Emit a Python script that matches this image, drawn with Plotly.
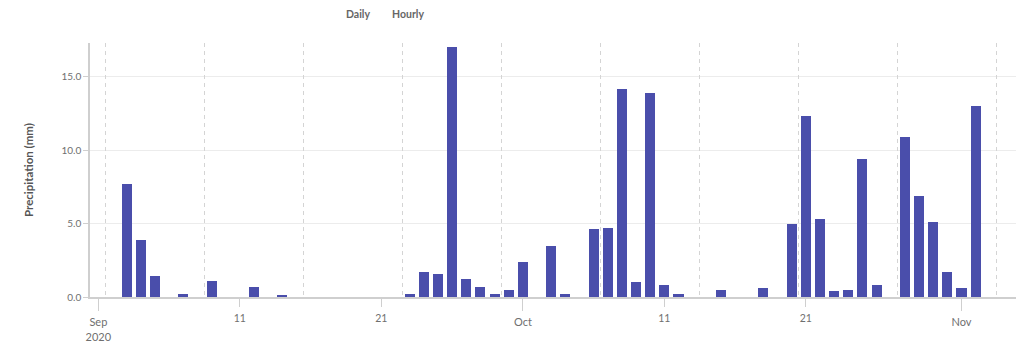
import plotly.graph_objects as go
import pandas as pd

# Daily precipitation (mm), non-zero days only
dates = [
    "2020-09-03", "2020-09-04", "2020-09-05", "2020-09-07", "2020-09-09",
    "2020-09-12", "2020-09-14", "2020-09-23", "2020-09-24", "2020-09-25",
    "2020-09-26", "2020-09-27", "2020-09-28", "2020-09-29", "2020-09-30",
    "2020-10-01", "2020-10-03", "2020-10-04", "2020-10-06", "2020-10-07",
    "2020-10-08", "2020-10-09", "2020-10-10", "2020-10-11", "2020-10-12",
    "2020-10-15", "2020-10-18", "2020-10-20", "2020-10-21", "2020-10-22",
    "2020-10-23", "2020-10-24", "2020-10-25", "2020-10-26", "2020-10-28",
    "2020-10-29", "2020-10-30", "2020-10-31", "2020-11-01", "2020-11-02",
]
precip = [
    7.7, 3.9, 1.4, 0.2, 1.1,
    0.7, 0.1, 0.2, 1.7, 1.6,
    17.0, 1.2, 0.7, 0.2, 0.5,
    2.4, 3.5, 0.2, 4.6, 4.7,
    14.2, 1.0, 13.9, 0.8, 0.2,
    0.5, 0.6, 5.0, 12.3, 5.3,
    0.4, 0.5, 9.4, 0.8, 10.9,
    6.9, 5.1, 1.7, 0.6, 13.0,
]

day_tick_vals = ["2020-09-11", "2020-09-21", "2020-10-11", "2020-10-21"]
day_tick_text = ["11", "21", "11", "21"]
month_tick_vals = ["2020-09-01", "2020-10-01", "2020-11-01"]
month_tick_text = ["Sep<br>2020", "Oct", "Nov"]
x_range = ["2020-08-31 09:50", "2020-11-04 20:25"]
y_range = [0, 17.3]

DAY_MS = 86400000
FONT = "Lato"
AXIS_GRAY = "#cfcfcf"
LABEL_GRAY = "#6f6f6f"

x_dates = pd.to_datetime(dates)

fig = go.Figure()
# invisible helper traces so the overlay axes (dashed week grid, month ticks) are drawn
fig.add_trace(go.Scatter(
    x=x_dates, y=precip, mode="markers", marker=dict(opacity=0),
    xaxis="x3", yaxis="y", hoverinfo="skip", showlegend=False,
))
fig.add_trace(go.Scatter(
    x=x_dates, y=precip, mode="markers", marker=dict(opacity=0),
    xaxis="x2", yaxis="y", hoverinfo="skip", showlegend=False,
))
fig.add_trace(go.Bar(
    x=x_dates, y=precip,
    width=0.71 * DAY_MS,
    marker=dict(color="#4a4eab", line=dict(width=0)),
    xaxis="x", yaxis="y",
    showlegend=False,
))

fig.update_layout(
    width=1024, height=350,
    margin=dict(l=90, r=8, t=43, b=53),
    paper_bgcolor="white", plot_bgcolor="white",
    font=dict(family=FONT, size=10, color=LABEL_GRAY),
    bargap=0,
    xaxis=dict(
        type="date", range=x_range, automargin=False,
        tickmode="array", tickvals=day_tick_vals, ticktext=day_tick_text,
        ticks="outside", ticklen=8, tickcolor=AXIS_GRAY, tickwidth=1,
        ticklabelstandoff=3,
        showgrid=False, zeroline=False,
        showline=True, linecolor=AXIS_GRAY, linewidth=1.5,
        tickfont=dict(family=FONT, size=10.5, color=LABEL_GRAY),
        anchor="y",
    ),
    xaxis2=dict(
        type="date", range=x_range, overlaying="x", anchor="y", side="bottom",
        automargin=False,
        tickmode="array", tickvals=month_tick_vals, ticktext=month_tick_text,
        ticks="outside", ticklen=13, tickcolor=AXIS_GRAY, tickwidth=1,
        ticklabelstandoff=2,
        showgrid=False, zeroline=False, showline=False,
        tickfont=dict(family=FONT, size=11, color=LABEL_GRAY),
    ),
    xaxis3=dict(
        type="date", range=x_range, overlaying="x", anchor="y", side="bottom",
        automargin=False,
        tick0="2020-09-01 12:00", dtick=7 * DAY_MS,
        showgrid=True, gridcolor="#d4d4d4", griddash="4px,4px", gridwidth=1,
        showticklabels=False, ticks="", zeroline=False, showline=False,
    ),
    yaxis=dict(
        range=y_range, dtick=5, tick0=0, tickformat=".1f", automargin=False,
        ticks="outside", ticklen=5, tickcolor=AXIS_GRAY,
        showgrid=True, gridcolor="#ececec", gridwidth=1,
        zeroline=False, showline=True, linecolor=AXIS_GRAY, linewidth=1.5,
        tickfont=dict(family=FONT, size=10, color=LABEL_GRAY),
    ),
)

fig.add_annotation(
    text="<b>Precipitation (mm)</b>", textangle=-90,
    xref="paper", yref="paper", x=(28 - 90) / 926, y=0.5,
    xanchor="center", yanchor="middle", showarrow=False,
    font=dict(family=FONT, size=11.5, color="#555555"),
)
fig.add_annotation(
    text="<b>Daily</b>", xref="paper", yref="paper",
    x=(358 - 90) / 926, y=1 + (43 - 14) / 253.5,
    xanchor="center", yanchor="middle", showarrow=False,
    font=dict(family=FONT, size=10.5, color="#666666"),
)
fig.add_annotation(
    text="<b>Hourly</b>", xref="paper", yref="paper",
    x=(408 - 90) / 926, y=1 + (43 - 14) / 253.5,
    xanchor="center", yanchor="middle", showarrow=False,
    font=dict(family=FONT, size=10.5, color="#666666"),
)

fig.write_html("out.html")
